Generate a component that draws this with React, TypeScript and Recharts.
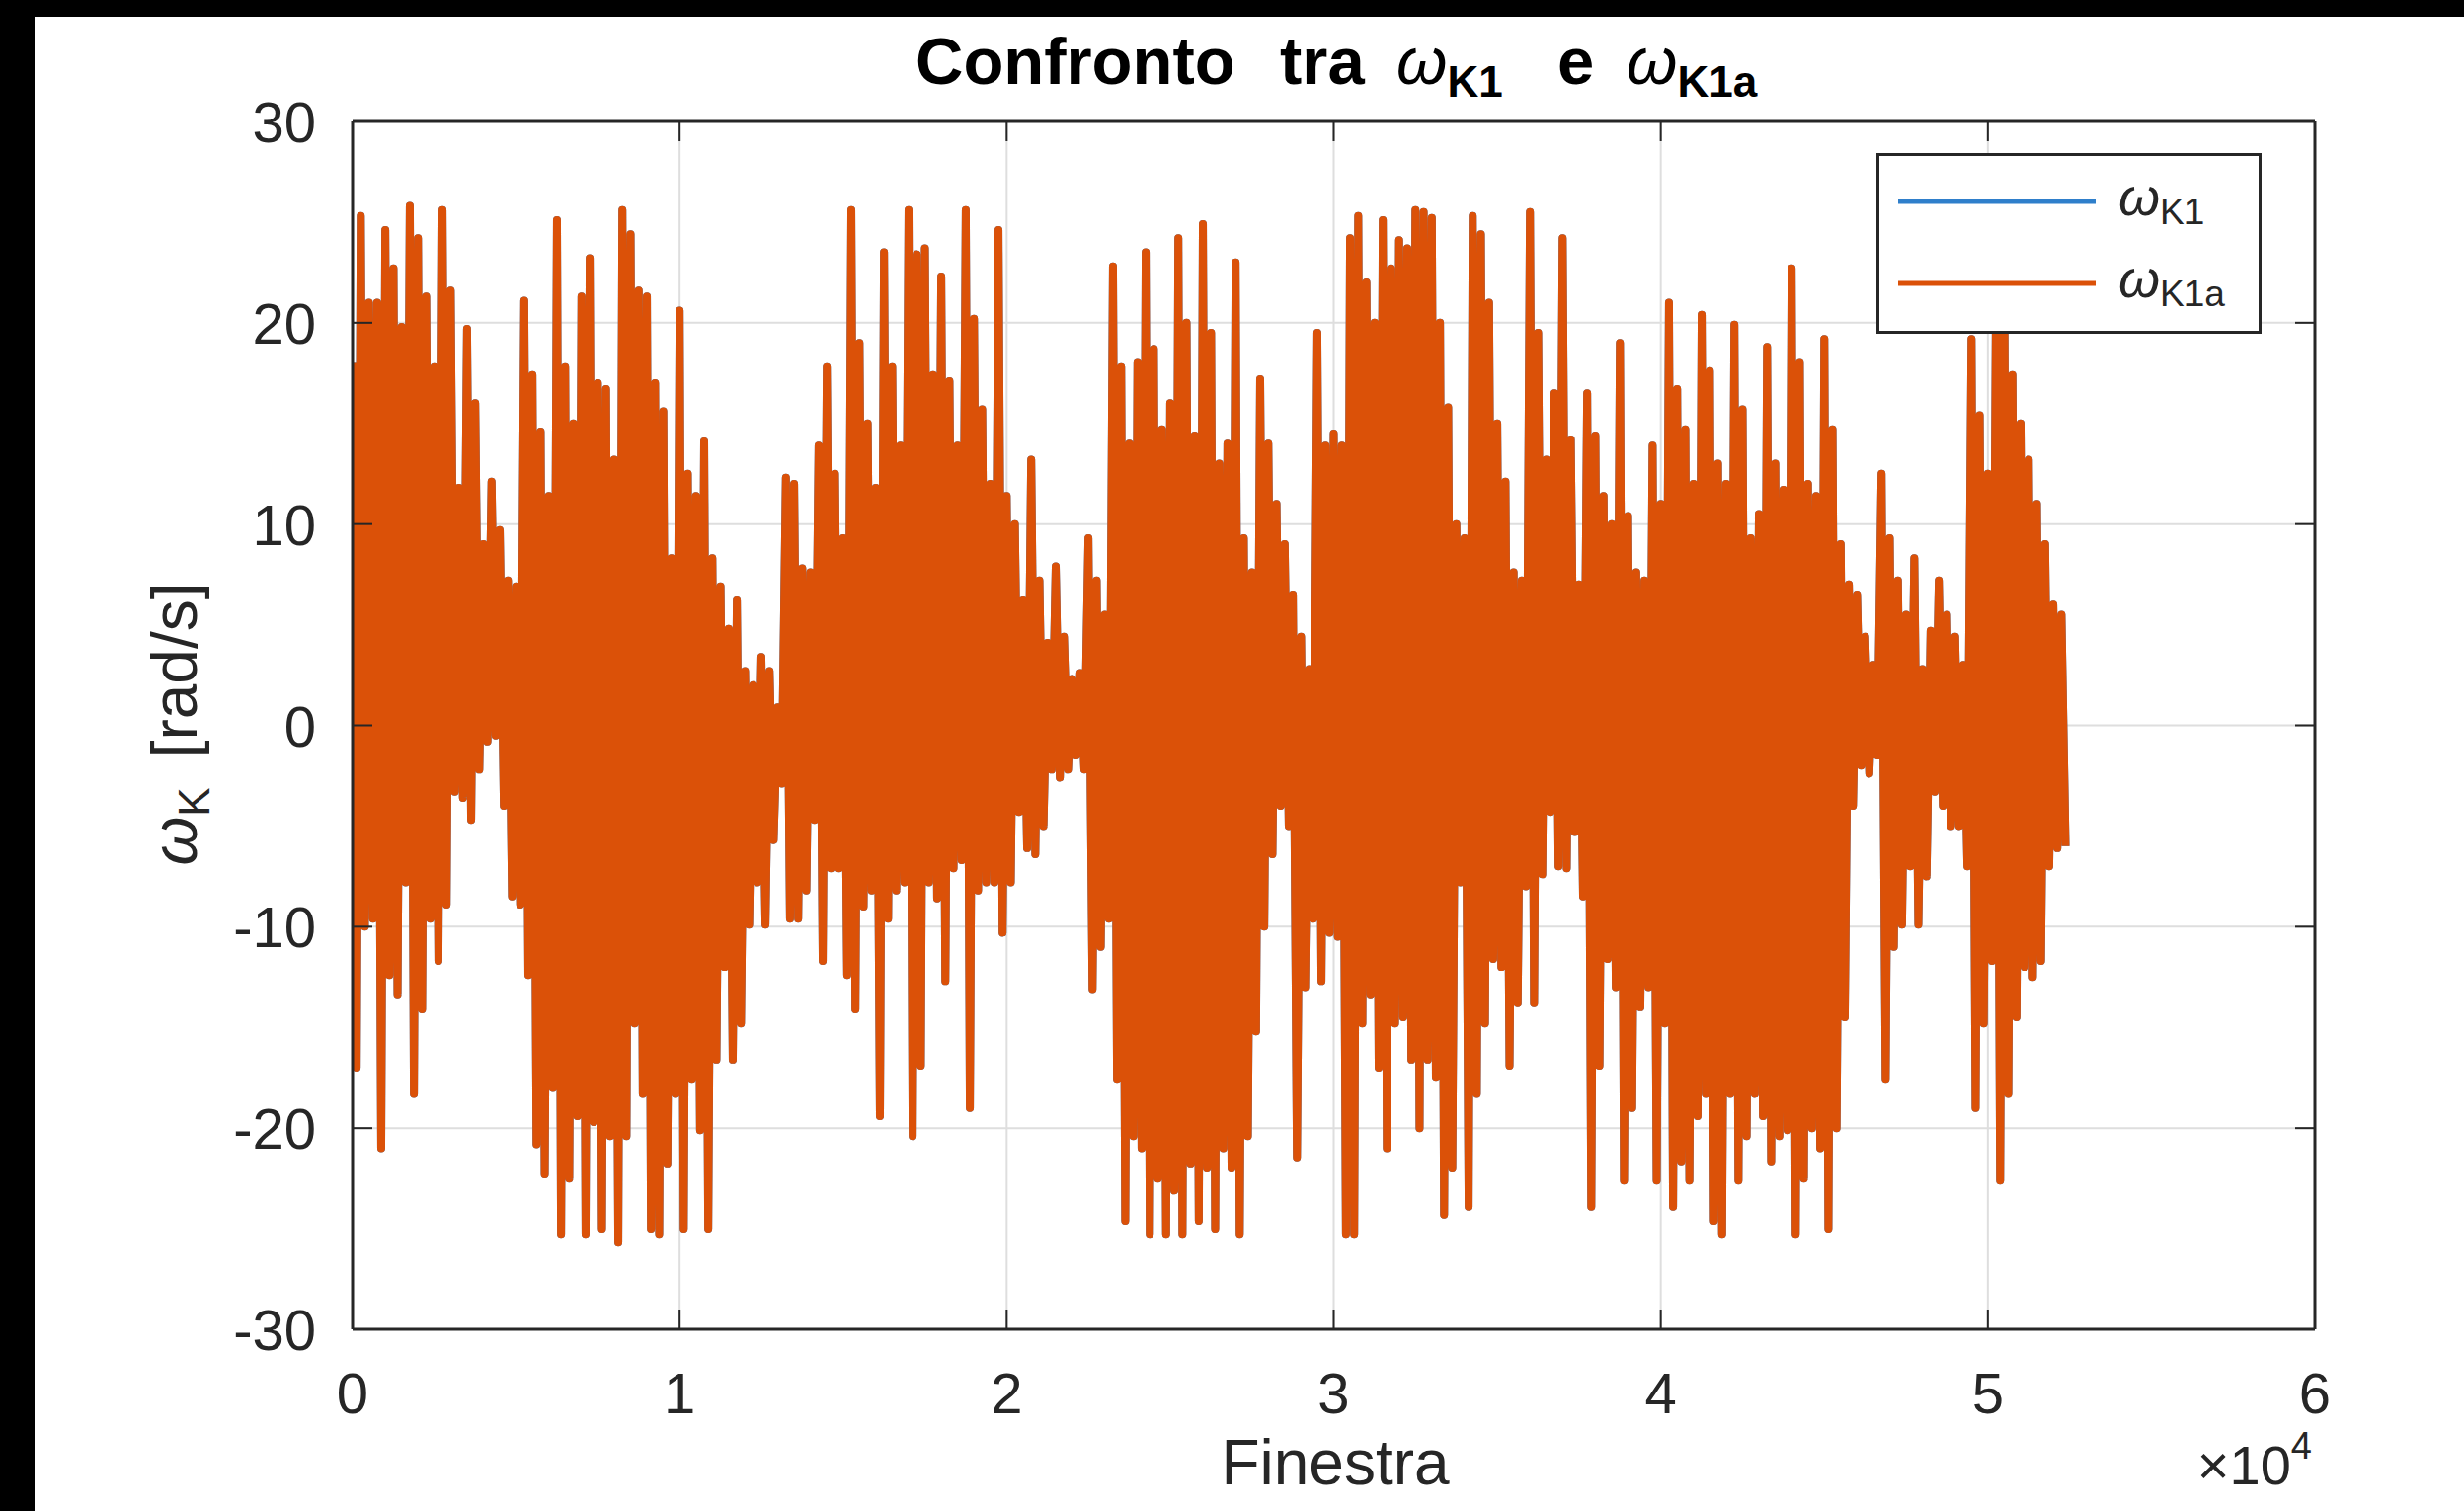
import React from 'react';
import { LineChart, Line, XAxis, YAxis, CartesianGrid, Legend } from 'recharts';

// Figura e area degli assi (coordinate in pixel della pagina)
const LARGHEZZA = 2495;
const ALTEZZA = 1530;
const AREA = { left: 357, right: 2344, top: 123, bottom: 1346 };

const BLU = '#2F7FCB';
const ARANCIO = '#DB5108';
const ASSI = '#262626';
const GRIGLIA = '#DEDEDE';
const FONT = '"Liberation Sans", Arial, Helvetica, sans-serif';

// Il segnale ha ~52500 campioni: per ogni blocco di PASSO campioni
// teniamo il picco massimo e il minimo
const PASSO = 250;

const MAX_BLOCCO = [
  18, 25.3, 21, 21, 24.6, 22.7, 19.8, 25.8, 24.2, 21.3,
  17.8, 25.6, 21.6, 11.8, 19.7, 16, 9, 12.1, 9.7, 7.2,
  6.9, 21.1, 17.4, 14.6, 11.4, 25.1, 17.8, 15, 21.3, 23.2,
  17, 16.7, 13.2, 25.6, 24.4, 21.6, 21.3, 17, 15.6, 8.3,
  20.6, 12.5, 11.4, 14.1, 8.3, 6.9, 4.8, 6.2, 2.7, 2,
  3.4, 2.7, 0.9, 12.3, 12, 7.8, 7.6, 13.9, 17.8, 12.5,
  9.3, 25.6, 19, 15, 11.8, 23.5, 17.8, 13.9, 25.6, 23.4,
  23.7, 17.4, 22.3, 17.1, 13.9, 25.6, 20.2, 15.7, 12, 24.6,
  11.4, 10, 6.2, 13.2, 7.2, 4.1, 7.9, 4.4, 2.3, 2.6,
  9.3, 7.2, 5.5, 22.8, 17.8, 14, 18, 23.5, 18.7, 14.7,
  16, 24.2, 20, 14.4, 24.9, 19.5, 13, 14, 23, 9.3,
  7.6, 17.2, 14, 11, 9, 6.5, 4.4, 2.8, 19.5, 13.9,
  14.5, 13.9, 24.2, 25.3, 22, 20, 25.1, 22.7, 24.1, 23.7,
  25.6, 25.5, 25.2, 20, 15.8, 10, 9.3, 25.3, 24.4, 21,
  15, 12.1, 7.6, 7.2, 25.5, 19.5, 13.2, 16.5, 24.2, 14.2,
  7, 16.5, 14.4, 11.4, 10, 19, 10.4, 7.6, 7.2, 13.9,
  11, 21, 16.7, 14.7, 12, 20.4, 17.6, 13, 12, 19.9,
  15.7, 9.3, 10.5, 18.8, 13, 11.7, 22.7, 18, 12, 11.4,
  19.2, 14.7, 9, 7, 6.5, 4.4, 3, 12.5, 9.3, 7.2,
  5.5, 8.3, 2.8, 4.7, 7.2, 5.5, 4.4, 3, 19.2, 15.4,
  12.5, 21.5, 22, 17.4, 15, 13.2, 11, 9, 6, 5.5,
];

const MIN_BLOCCO = [
  -17, -10, -9.6, -21, -12.4, -13.4, -7.8, -18.3, -14.1, -9.6,
  -11.7, -8.9, -3.3, -3.6, -4.7, -2.2, -0.8, -0.5, -4, -8.5,
  -8.9, -12.4, -20.8, -22.3, -18, -25.3, -22.5, -19.4, -25.3, -19.7,
  -25, -20.4, -25.7, -20.4, -14.8, -18.3, -25, -25.3, -21.8, -18.3,
  -25, -17.6, -20.1, -25, -16.6, -12, -16.6, -14.8, -9.9, -7.8,
  -9.9, -5.7, -2.9, -9.6, -9.6, -8.2, -4.7, -11.7, -7.1, -7.1,
  -12.4, -14.1, -9, -8.2, -19.4, -9.6, -8.2, -7.8, -20.4, -16.9,
  -7.8, -8.6, -12.7, -7.1, -6.7, -19, -8.2, -7.8, -7.8, -10.3,
  -7.8, -4.3, -6.1, -6.4, -5, -2.2, -2.6, -2.2, -1.5, -2.2,
  -13.1, -11, -9.6, -17.6, -24.6, -20.4, -21, -25.3, -22.5, -25.3,
  -23.1, -25.3, -21.8, -24.6, -22, -25, -21, -22, -25.3, -20.4,
  -15.2, -10, -6.4, -4, -5, -21.5, -13, -9.6, -12.7, -10.3,
  -10.5, -25.3, -25.3, -14.8, -13.4, -17, -21, -14.8, -14.5, -16.6,
  -20, -16.6, -17.5, -24.3, -22, -7.8, -23.9, -18.3, -14.8, -11.6,
  -12, -16.9, -13.8, -8, -13.8, -7.4, -4.3, -7, -7.1, -5.3,
  -8.5, -23.9, -16.9, -11.6, -13, -22.6, -19, -14, -13, -22.6,
  -14.8, -23.9, -21.7, -22.6, -19.4, -18.3, -24.6, -25.3, -18.3, -22.6,
  -20.4, -18.3, -19.4, -21.7, -20.4, -20.1, -25.3, -22.5, -20, -21,
  -25, -20, -14.5, -4, -2, -2.4, -1.5, -17.6, -11, -9.9,
  -7, -9.9, -7.5, -3.3, -4, -5, -5, -7, -19, -14.8,
  -11.7, -22.6, -18.3, -14.5, -12, -12.5, -11.7, -7, -6.1, -6,
];

const X_TICKS = [0, 10000, 20000, 30000, 40000, 50000, 60000];
const Y_TICKS = [-30, -20, -10, 0, 10, 20, 30];

// ωK1 e ωK1a coincidono: la curva arancione copre interamente quella blu
const dati = MAX_BLOCCO.flatMap((alto, i) => [
  { finestra: i * PASSO, wK1: alto, wK1a: alto },
  { finestra: i * PASSO + PASSO / 2, wK1: MIN_BLOCCO[i], wK1a: MIN_BLOCCO[i] },
]);

const TickBasso = (props: any) => {
  const { x, y, payload } = props;
  return (
    <g>
      <line x1={x} x2={x} y1={y} y2={y - 20} stroke={ASSI} strokeWidth={2} />
      <text x={x} y={y + 85} textAnchor="middle" fontSize={58} fontFamily={FONT} fill={ASSI}>
        {payload.value / 10000}
      </text>
    </g>
  );
};

const TickAlto = (props: any) => {
  const { x, y } = props;
  return <line x1={x} x2={x} y1={y} y2={y + 20} stroke={ASSI} strokeWidth={2} />;
};

const TickSinistra = (props: any) => {
  const { x, y, payload } = props;
  return (
    <g>
      <line x1={x} x2={x + 20} y1={y} y2={y} stroke={ASSI} strokeWidth={2} />
      <text x={x - 37} y={y + 21} textAnchor="end" fontSize={58} fontFamily={FONT} fill={ASSI}>
        {String(payload.value)}
      </text>
    </g>
  );
};

const TickDestra = (props: any) => {
  const { x, y } = props;
  return <line x1={x} x2={x - 20} y1={y} y2={y} stroke={ASSI} strokeWidth={2} />;
};

const Legenda = (props: any) => {
  const voci = props.payload || [];
  return (
    <div
      style={{
        width: 390,
        height: 183,
        boxSizing: 'border-box',
        border: `3px solid ${ASSI}`,
        background: '#fff',
      }}
    >
      <svg width={384} height={177}>
        {voci.map((v: any, i: number) => {
          const yy = 46 + i * 83;
          const nome = String(v.value);
          return (
            <g key={nome}>
              <line x1={19} x2={219} y1={yy} y2={yy} stroke={v.color} strokeWidth={5} />
              <text x={242} y={yy + 14} fontFamily={FONT} fill={ASSI}>
                <tspan fontStyle="italic" fontSize={54}>{nome.slice(0, 1)}</tspan>
                <tspan dy={9} fontSize={37}>{nome.slice(1)}</tspan>
              </text>
            </g>
          );
        })}
      </svg>
    </div>
  );
};

const assiStile = { stroke: ASSI, strokeWidth: 3 };

export default function App() {
  return (
    <div style={{ position: 'absolute', left: 0, top: 0, width: LARGHEZZA, height: ALTEZZA, background: '#000', overflow: 'hidden' }}>
      <div style={{ position: 'absolute', left: 35, top: 17, right: 0, bottom: 0, background: '#fff' }} />
      <div style={{ position: 'absolute', left: 0, top: 0 }}>
        <LineChart
          width={LARGHEZZA}
          height={ALTEZZA}
          data={dati}
          margin={{
            top: AREA.top - 30,
            bottom: ALTEZZA - AREA.bottom - 30,
            left: AREA.left - 60,
            right: LARGHEZZA - AREA.right - 60,
          }}
        >
          <CartesianGrid stroke={GRIGLIA} strokeWidth={2} />
          <Line
            type="linear"
            dataKey="wK1"
            name="ωK1"
            stroke={BLU}
            strokeWidth={8}
            strokeLinejoin="round"
            dot={false}
            activeDot={false}
            isAnimationActive={false}
          />
          <Line
            type="linear"
            dataKey="wK1a"
            name="ωK1a"
            stroke={ARANCIO}
            strokeWidth={8}
            strokeLinejoin="round"
            dot={false}
            activeDot={false}
            isAnimationActive={false}
          />
          <XAxis
            type="number"
            dataKey="finestra"
            domain={[0, 60000]}
            ticks={X_TICKS}
            interval={0}
            allowDataOverflow
            height={30}
            tickSize={0}
            tickMargin={0}
            tickLine={false}
            axisLine={assiStile}
            tick={TickBasso}
          />
          <XAxis
            xAxisId="alto"
            orientation="top"
            type="number"
            dataKey="finestra"
            domain={[0, 60000]}
            ticks={X_TICKS}
            interval={0}
            allowDataOverflow
            height={30}
            tickSize={0}
            tickMargin={0}
            tickLine={false}
            axisLine={assiStile}
            tick={TickAlto}
          />
          <YAxis
            type="number"
            domain={[-30, 30]}
            ticks={Y_TICKS}
            interval={0}
            allowDataOverflow
            width={60}
            tickSize={0}
            tickMargin={0}
            tickLine={false}
            axisLine={assiStile}
            tick={TickSinistra}
          />
          <YAxis
            yAxisId="destra"
            orientation="right"
            type="number"
            domain={[-30, 30]}
            ticks={Y_TICKS}
            interval={0}
            allowDataOverflow
            width={60}
            tickSize={0}
            tickMargin={0}
            tickLine={false}
            axisLine={assiStile}
            tick={TickDestra}
          />
          <Legend
            layout="horizontal"
            verticalAlign="middle"
            align="center"
            wrapperStyle={{ left: 1900, top: 155, width: 390, height: 183 }}
            content={Legenda}
          />
        </LineChart>
      </div>
      <svg
        width={LARGHEZZA}
        height={ALTEZZA}
        style={{ position: 'absolute', left: 0, top: 0, pointerEvents: 'none' }}
      >
        <text y={85} fontFamily={FONT} fill="#000">
          <tspan x={927} fontWeight="bold" fontSize={67}>Confronto</tspan>
          <tspan x={1296} fontWeight="bold" fontSize={67}>tra</tspan>
          <tspan x={1414} fontStyle="italic" fontSize={66}>ω</tspan>
          <tspan dy={13} fontWeight="bold" fontSize={44}>K1</tspan>
          <tspan x={1577} dy={-13} fontWeight="bold" fontSize={67}>e</tspan>
          <tspan x={1647} fontStyle="italic" fontSize={66}>ω</tspan>
          <tspan dy={13} fontWeight="bold" fontSize={44}>K1a</tspan>
        </text>
        <text x={1352} y={1503} textAnchor="middle" fontSize={64} fontFamily={FONT} fill={ASSI}>
          Finestra
        </text>
        <text x={2341} y={1503} textAnchor="end" fontSize={56} fontFamily={FONT} fill={ASSI}>
          ×10
          <tspan dy={-26} fontSize={38}>4</tspan>
        </text>
        <text
          transform="translate(199,733) rotate(-90)"
          textAnchor="middle"
          fontSize={64}
          fontFamily={FONT}
          fill={ASSI}
        >
          <tspan fontStyle="italic">ω</tspan>
          <tspan dy={13} fontSize={44}>K</tspan>
          <tspan dx={30} dy={-13}>[rad/s]</tspan>
        </text>
      </svg>
    </div>
  );
}
